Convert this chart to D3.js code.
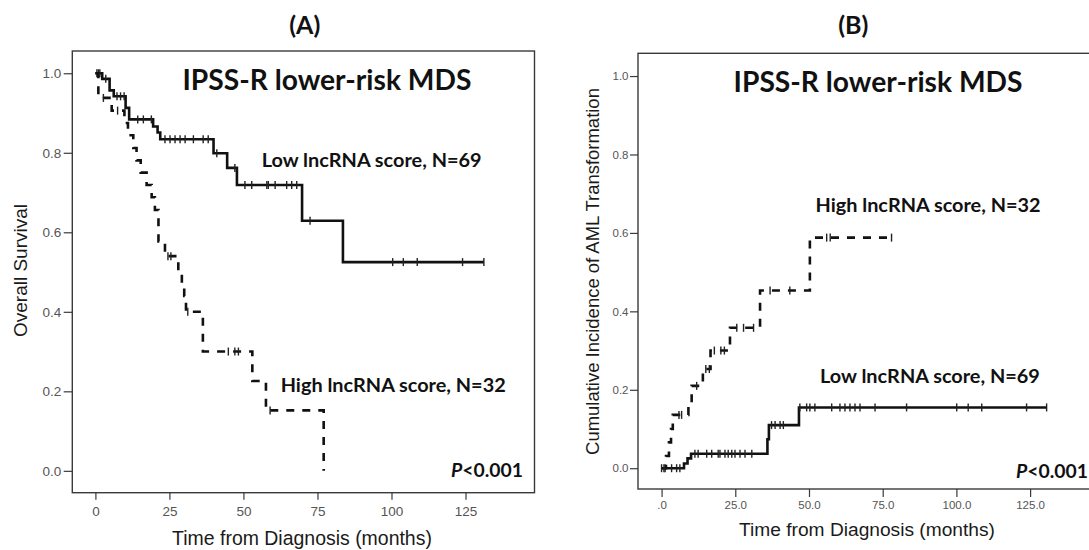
<!DOCTYPE html>
<html><head><meta charset="utf-8">
<script src="https://cdn.jsdelivr.net/npm/d3@7"></script>
<style>body{margin:0;background:#fff}</style>
</head><body>
<svg id="chart" width="1089" height="550"></svg>
<script>
// ---------- data ----------
const monthTicks = [0, 25, 50, 75, 100, 125];
const probTicks = [0, 0.2, 0.4, 0.6, 0.8, 1.0];

// Panel A: overall survival (Kaplan-Meier), low lncRNA score N=69 (solid)
const osLowTimes  = [2.3, 4.8, 6.2, 10.2, 11.4, 19.5, 21.0, 21.9, 39.9, 44.5, 47.8, 69.8, 83.6];
const osLowValues = [0.986, 0.957, 0.942, 0.913, 0.884, 0.866, 0.851, 0.834, 0.799, 0.762, 0.719, 0.629, 0.525];
const osLowEnd = 131.2;
const osLowCensored = [0.5, 1.0, 1.5, 3.5, 7.3, 8.5, 9.7, 14.3, 16.2, 18.9, 23.5, 25.2, 26.9, 28.6, 30.3, 33.1, 36.4, 38.1, 41.0, 47.1, 50.5, 52.8, 57.9, 58.4, 60.7, 64.6, 66.3, 68.0, 72.5, 100.4, 104.0, 108.7, 124.0, 131.2];

// Panel A: high lncRNA score N=32 (dashed)
const osHighTimes  = [1.0, 5.5, 9.8, 11.0, 12.8, 13.9, 15.3, 17.3, 19.0, 20.1, 21.3, 23.5, 28.0, 29.2, 30.0, 30.6, 36.3, 53.0, 57.6, 77.1];
const osHighValues = [0.938, 0.906, 0.875, 0.844, 0.812, 0.781, 0.750, 0.719, 0.688, 0.656, 0.577, 0.540, 0.500, 0.470, 0.440, 0.400, 0.300, 0.226, 0.152, 0.0];
const osHighEnd = 77.1;
const osHighCensored = [2.7, 7.5, 24.5, 25.5, 31.2, 44.9, 47.1, 48.3, 59.0];

// Panel B: cumulative incidence of AML transformation, low score (solid)
const amlLowTimes  = [7.6, 8.8, 10.0, 35.9, 36.4, 46.6];
const amlLowValues = [0.012, 0.025, 0.037, 0.074, 0.110, 0.155];
const amlLowEnd = 130.6;
const amlLowCensored = [0.0, 1.2, 3.4, 5.1, 6.2, 11.3, 12.4, 15.3, 17.0, 19.2, 19.8, 21.5, 22.6, 23.8, 24.9, 26.6, 28.3, 30.6, 37.3, 38.5, 40.2, 41.3, 46.9, 49.2, 50.3, 52.0, 57.7, 60.5, 62.2, 63.9, 65.6, 67.3, 72.4, 83.1, 100.1, 104.0, 108.6, 123.8, 130.6];

// Panel B: high score (dashed)
const amlHighTimes  = [1.5, 2.5, 3.2, 3.8, 9.1, 10.2, 14.0, 16.6, 23.2, 33.4, 50.3];
const amlHighValues = [0.031, 0.066, 0.100, 0.136, 0.168, 0.210, 0.253, 0.300, 0.358, 0.453, 0.588];
const amlHighEnd = 78.0;
const amlHighCensored = [0.8, 5.9, 6.8, 11.9, 15.0, 16.2, 17.9, 20.1, 21.3, 25.5, 27.8, 31.2, 36.8, 43.5, 56.0, 57.2, 78.0];

const annotTitle = "IPSS-R lower-risk MDS";
const lowLabel = "Low lncRNA score, N=69";
const highLabel = "High lncRNA score, N=32";

// ---------- helpers ----------
const svg = d3.select("#chart");
const TF = "'Liberation Sans', Arial, sans-serif";
const CF = "Lato, 'Open Sans', sans-serif";

function stepPoints(start, times, values, end) {
  const pts = [[0, start]];
  times.forEach((t, i) => pts.push([t, values[i]]));
  pts.push([end, values[values.length - 1]]);
  return pts;
}
function valueAt(start, times, values, t) {
  let v = start;
  times.forEach((tt, i) => { if (tt <= t) v = values[i]; });
  return v;
}
function fit(sel, target) {
  const w = sel.node().getComputedTextLength();
  const fs = parseFloat(sel.attr("font-size"));
  sel.attr("font-size", (fs * target / w).toFixed(2));
}

function panel(cfg) {
  const g = svg.append("g");
  const x = d3.scaleLinear().domain(cfg.xDomain).range(cfg.xRange);
  const y = d3.scaleLinear().domain(cfg.yDomain).range(cfg.yRange);

  // frame
  g.append("rect")
    .attr("x", cfg.xRange[0]).attr("y", cfg.yRange[1])
    .attr("width", cfg.xRange[1] - cfg.xRange[0])
    .attr("height", cfg.yRange[0] - cfg.yRange[1])
    .attr("fill", "none").attr("stroke", "#3a3a3a").attr("stroke-width", 1.4);

  // axes
  const xa = g.append("g").attr("transform", `translate(0,${cfg.yRange[0]})`)
    .call(d3.axisBottom(x).tickValues(monthTicks).tickSize(cfg.xTick).tickSizeOuter(0).tickFormat(cfg.xFmt));
  xa.select(".domain").remove();
  xa.selectAll("line").attr("stroke", "#3a3a3a").attr("stroke-width", 1.2);
  xa.selectAll("text").attr("font-family", TF).attr("font-size", cfg.tickFont)
    .attr("fill", "#555").attr("y", cfg.xLabelY);

  const ya = g.append("g").attr("transform", `translate(${cfg.xRange[0]},0)`)
    .call(d3.axisLeft(y).tickValues(probTicks).tickSize(cfg.yTick).tickPadding(cfg.yPad).tickSizeOuter(0).tickFormat(d3.format(".1f")));
  ya.select(".domain").remove();
  ya.selectAll("line").attr("stroke", "#3a3a3a").attr("stroke-width", 1.2);
  ya.selectAll("text").attr("font-family", TF).attr("font-size", cfg.tickFont).attr("fill", "#555");

  // axis titles
  const xt = g.append("text").attr("x", cfg.xTitle[0]).attr("y", cfg.xTitle[1])
    .attr("text-anchor", "middle").attr("font-family", TF).attr("font-size", 19)
    .attr("fill", "#1a1a1a").text("Time from Diagnosis (months)");
  fit(xt, cfg.xTitle[2]);
  const yt = g.append("text")
    .attr("transform", `translate(${cfg.yTitle[0]},${cfg.yTitle[1]}) rotate(-90)`)
    .attr("text-anchor", "middle").attr("font-family", TF).attr("font-size", 19)
    .attr("fill", "#1a1a1a").text(cfg.yLabel);
  fit(yt, cfg.yTitle[2]);

  // curves
  const line = d3.line().x(d => x(d[0])).y(d => y(d[1])).curve(d3.curveStepAfter);
  cfg.series.forEach(s => {
    g.append("path").datum(stepPoints(cfg.start, s.times, s.values, s.end))
      .attr("d", line).attr("fill", "none").attr("stroke", "#111")
      .attr("stroke-width", 2.6).attr("stroke-dasharray", s.dash ? "8,8" : null);
    g.selectAll(null).data(s.censored).enter().append("line")
      .attr("x1", d => x(d)).attr("x2", d => x(d))
      .attr("y1", d => y(valueAt(cfg.start, s.times, s.values, d)) - 4)
      .attr("y2", d => y(valueAt(cfg.start, s.times, s.values, d)) + 4)
      .attr("stroke", "#222").attr("stroke-width", 1.4);
  });

  // panel letter
  g.append("text").attr("x", cfg.letter[0]).attr("y", cfg.letter[1])
    .attr("text-anchor", "middle").attr("font-family", CF).attr("font-weight", "bold")
    .attr("font-size", 25).attr("fill", "#111").text(cfg.letter[2]);

  // annotations
  const t1 = g.append("text").attr("x", cfg.title[0]).attr("y", cfg.title[1])
    .attr("font-family", CF).attr("font-weight", "bold").attr("font-size", 26)
    .attr("fill", "#111").text(annotTitle);
  fit(t1, 289);
  const lo = g.append("text").attr("x", cfg.low[0]).attr("y", cfg.low[1])
    .attr("font-family", CF).attr("font-weight", "bold").attr("font-size", 18)
    .attr("fill", "#111").text(lowLabel);
  fit(lo, 220);
  const hi = g.append("text").attr("x", cfg.high[0]).attr("y", cfg.high[1])
    .attr("font-family", CF).attr("font-weight", "bold").attr("font-size", 18)
    .attr("fill", "#111").text(highLabel);
  fit(hi, 225);
  const p = g.append("text").attr("x", cfg.p[0]).attr("y", cfg.p[1])
    .attr("font-family", CF).attr("font-weight", "bold").attr("font-size", 18)
    .attr("fill", "#111");
  p.append("tspan").attr("font-style", "italic").text("P");
  p.append("tspan").text("<0.001");
  fit(p, 72);
}

panel({
  xDomain: [-7.8, 148.3], xRange: [72.3, 534.5],
  yDomain: [-0.055, 1.056], yRange: [492.7, 51],
  xTick: 7, xLabelY: 14, yTick: 8.6, yPad: 2.5, tickFont: 13.5,
  xFmt: d3.format("d"),
  xTitle: [302, 545, 260], yTitle: [26.5, 270.5, 133],
  yLabel: "Overall Survival",
  start: 1.0,
  series: [
    {times: osLowTimes, values: osLowValues, end: osLowEnd, censored: osLowCensored, dash: false},
    {times: osHighTimes, values: osHighValues, end: osHighEnd, censored: osHighCensored, dash: true}
  ],
  letter: [304.8, 34, "(A)"],
  title: [182.5, 90], low: [261.7, 167], high: [280.7, 392], p: [451, 477]
});

panel({
  xDomain: [-8.0, 148.3], xRange: [638, 1098.8],
  yDomain: [-0.053, 1.058], yRange: [489, 53.3],
  xTick: 8, xLabelY: 12, yTick: 8, yPad: 1.5, tickFont: 11.5,
  xFmt: d => d === 0 ? ".0" : d.toFixed(1),
  xTitle: [867, 536, 256], yTitle: [599, 271.5, 367],
  yLabel: "Cumulative Incidence of AML Transformation",
  start: 0.0,
  series: [
    {times: amlLowTimes, values: amlLowValues, end: amlLowEnd, censored: amlLowCensored, dash: false},
    {times: amlHighTimes, values: amlHighValues, end: amlHighEnd, censored: amlHighCensored, dash: true}
  ],
  letter: [853.3, 34, "(B)"],
  title: [733.6, 92], low: [820, 383], high: [815.5, 212], p: [1016, 478]
});
</script>
</body></html>
